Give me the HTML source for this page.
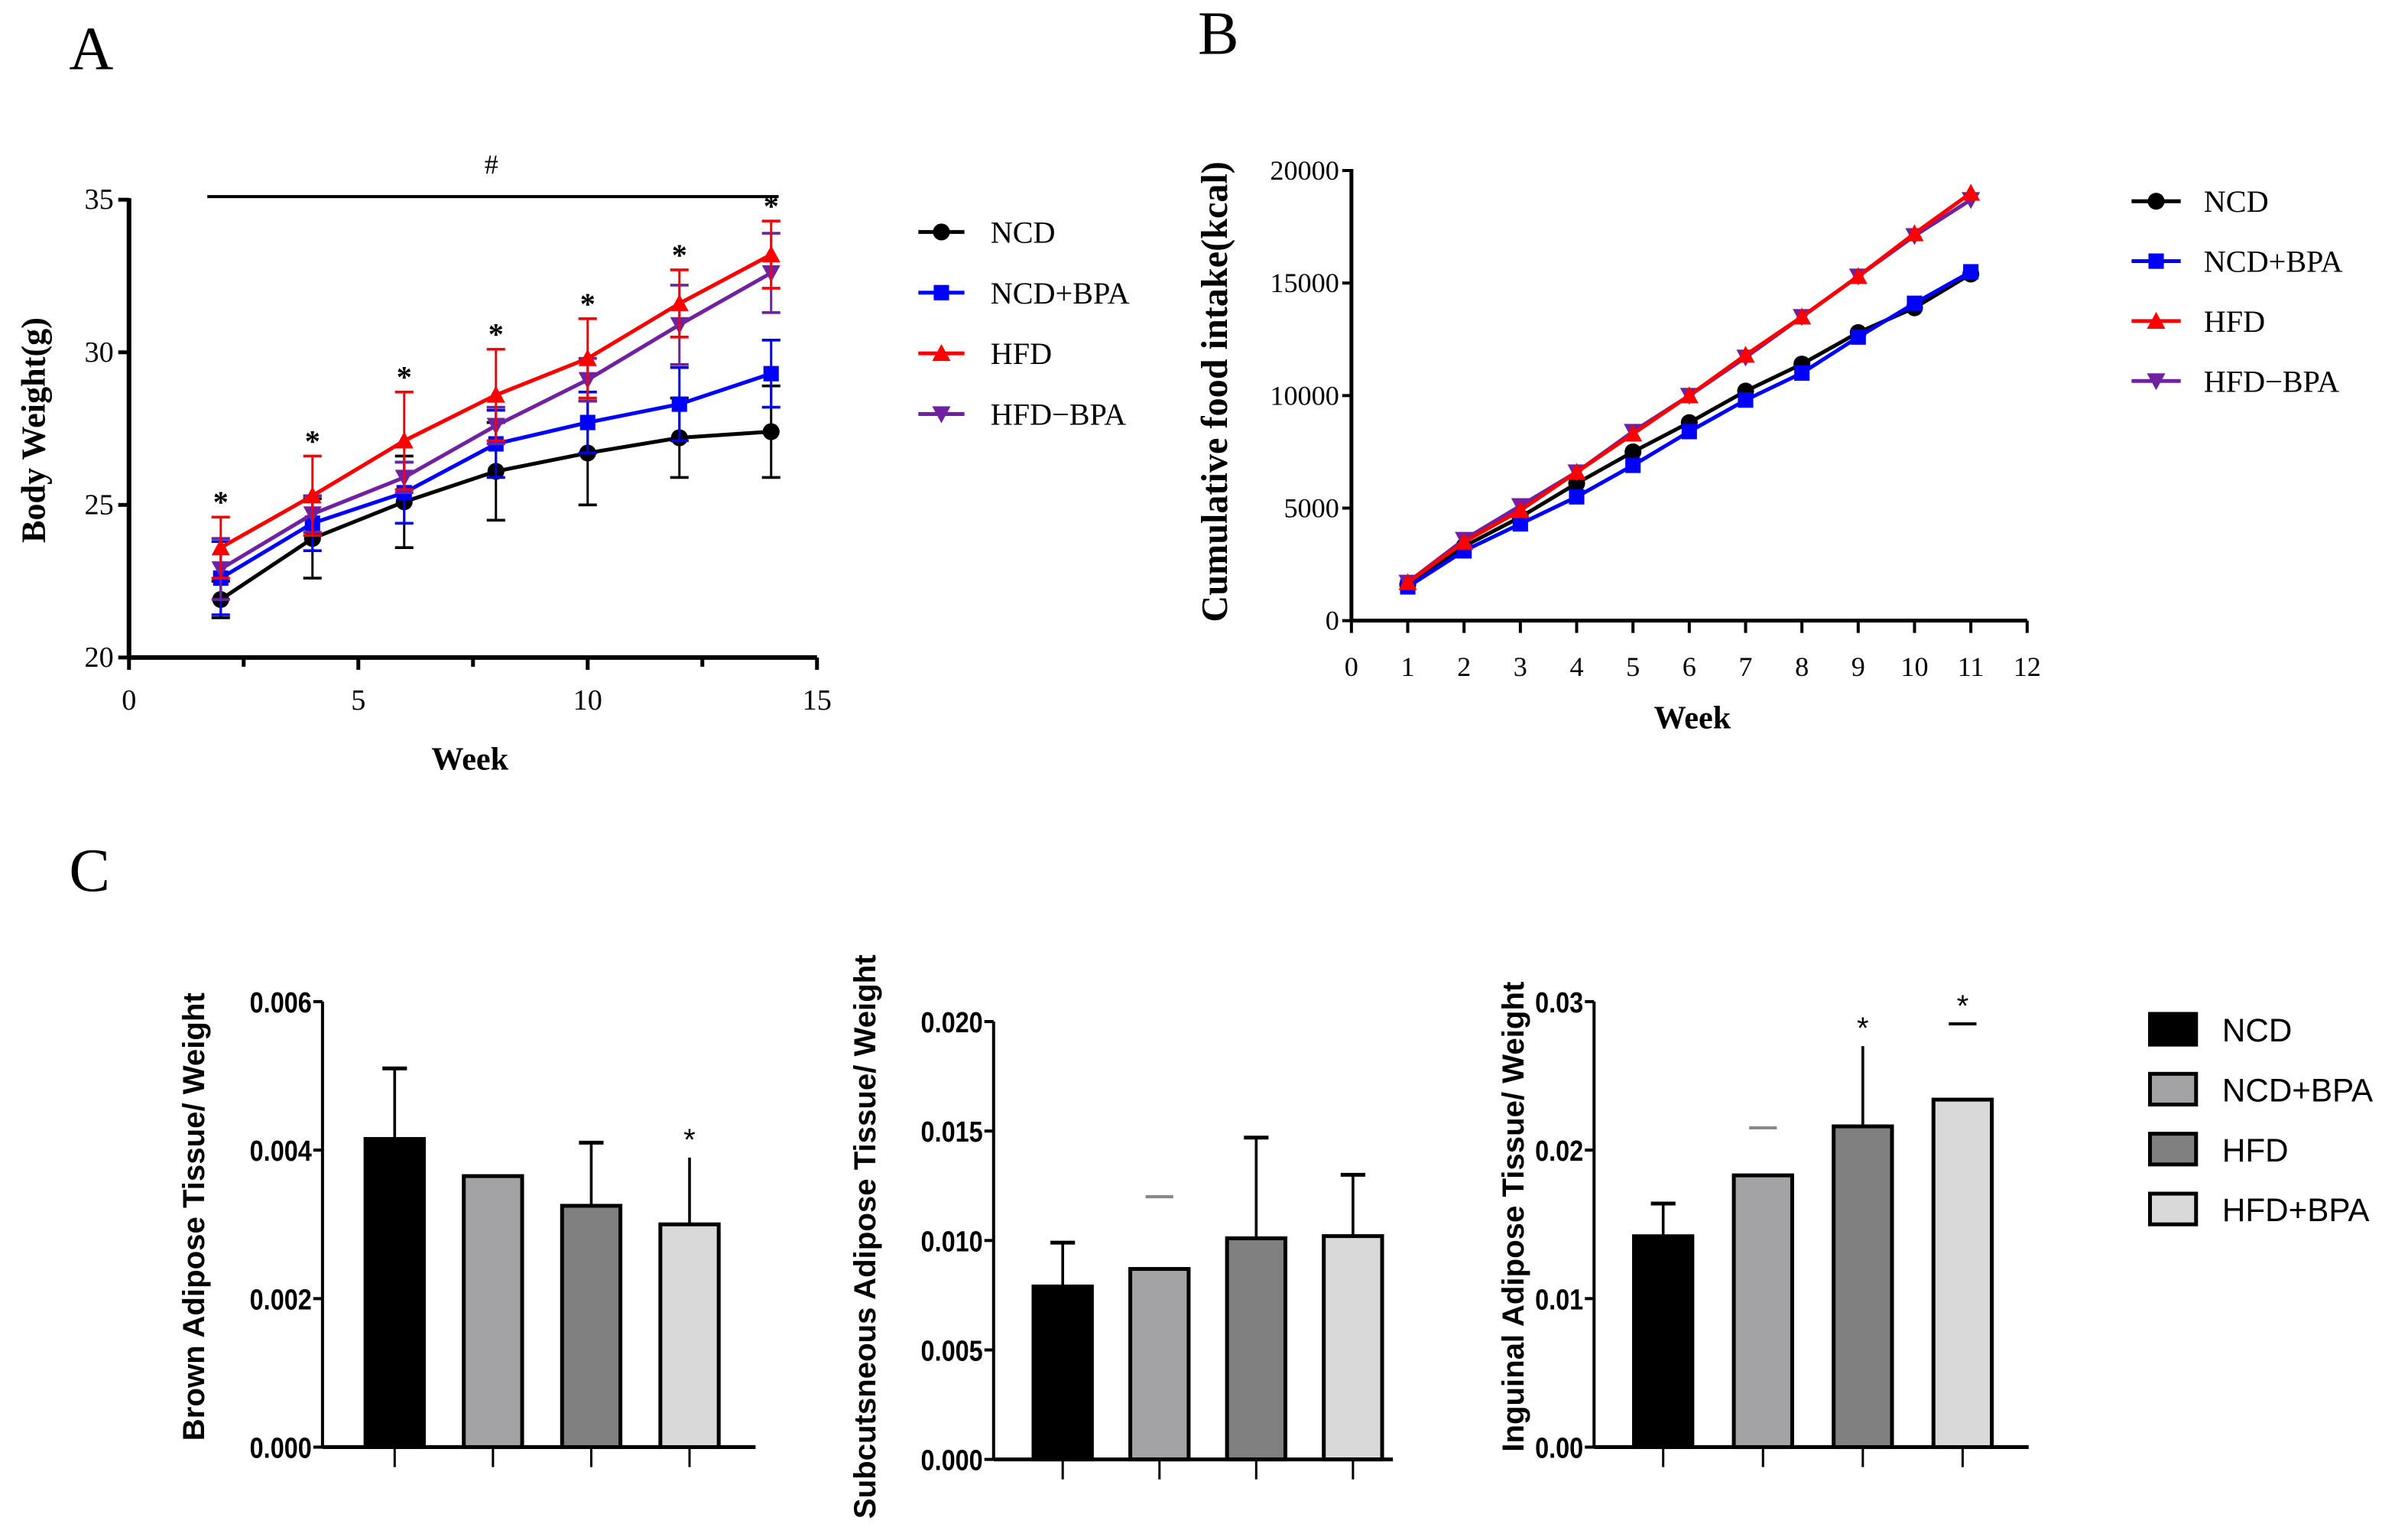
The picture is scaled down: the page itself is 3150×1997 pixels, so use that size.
<!DOCTYPE html>
<html><head><meta charset="utf-8"><style>
html,body{margin:0;padding:0;background:#fff;}
svg{display:block;}
.serif{font-family:"Liberation Serif",serif;}
.sans{font-family:"Liberation Sans",sans-serif;}
</style></head><body>
<svg id="fig" width="3150" height="1997" viewBox="0 0 1568 994" preserveAspectRatio="none" xmlns="http://www.w3.org/2000/svg">
<rect width="1568" height="994" fill="#fff"/>
<text x="45" y="45" class="serif" font-size="40">A</text>
<text x="780" y="35" class="serif" font-size="40">B</text>
<text x="45" y="580" class="serif" font-size="40">C</text>
</svg>
<script>
const NS='http://www.w3.org/2000/svg';
const svg=document.getElementById('fig');
// ---- Panel A data ----
const weeksA=[2,4,6,8,10,12,14];
const ncdA=[21.9,23.9,25.1,26.1,26.7,27.2,27.4];
const ncdAErr=[0.6,1.3,1.5,1.6,1.7,1.3,1.5];
const ncdBpaA=[22.6,24.4,25.4,27.0,27.7,28.3,29.3];
const ncdBpaAErr=[1.2,0.9,1.0,1.1,1.0,1.2,1.1];
const hfdA=[23.6,25.3,27.1,28.6,29.8,31.6,33.2];
const hfdAErr=[1.0,1.3,1.6,1.5,1.3,1.1,1.1];
const hfdBpaA=[22.9,24.7,25.9,27.6,29.1,30.9,32.6];
const hfdBpaAErr=[1.0,0.6,0.5,0.6,0.7,1.3,1.3];
const xTicksA=[0,5,10,15];
const yTicksA=[20,25,30,35];
// ---- Panel B data ----
const weeksB=[1,2,3,4,5,6,7,8,9,10,11];
const ncdB=[1600,3300,4600,6100,7500,8800,10200,11400,12800,13900,15400];
const ncdBpaB=[1500,3100,4300,5500,6900,8400,9800,11000,12600,14100,15500];
const hfdB=[1700,3500,4900,6600,8300,10000,11800,13500,15300,17200,19000];
const hfdBpaB=[1700,3600,5100,6600,8400,10000,11700,13500,15300,17100,18700];
const xTicksB=[0,1,2,3,4,5,6,7,8,9,10,11,12];
const yTicksB=[0,5000,10000,15000,20000];
// ---- Panel C data ----
const groups=['NCD','NCD+BPA','HFD','HFD+BPA'];
const brownVals=[0.00415,0.00365,0.00325,0.0030];
const brownErr=[0.0051,null,0.0041,0.0039];
const brownCap=[null,null,null,null];
const brownStar=[false,false,false,true];
const subVals=[0.0079,0.0087,0.0101,0.0102];
const subErr=[0.0099,null,0.0147,0.013];
const subCap=[null,0.012,null,null];
const subStar=[false,false,false,false];
const ingVals=[0.0142,0.0183,0.0216,0.0234];
const ingErr=[0.0164,null,0.027,null];
const ingCap=[null,0.0215,null,0.0285];
const ingStar=[false,false,true,true];
const brownTicks=['0.000','0.002','0.004','0.006'];
const subTicks=['0.000','0.005','0.010','0.015','0.020'];
const ingTicks=['0.00','0.01','0.02','0.03'];

function mk(tag,attrs,parent){const e=document.createElementNS(NS,tag);for(const k in attrs)e.setAttribute(k,attrs[k]);(parent||svg).appendChild(e);return e;}
function txt(x,y,s,attrs,parent){const e=mk('text',Object.assign({x:x,y:y},attrs),parent);e.textContent=s;return e;}

function marker(g,type,x,y,color){
  if(type==='circle') return mk('circle',{cx:x,cy:y,r:5.5,fill:color},g);
  if(type==='square') return mk('rect',{x:x-5,y:y-5,width:10,height:10,fill:color},g);
  if(type==='tri') return mk('polygon',{points:`${x},${y-6} ${x-6},${y+5} ${x+6},${y+5}`,fill:color},g);
  return mk('polygon',{points:`${x},${y+6} ${x-6},${y-5} ${x+6},${y-5}`,fill:color},g);
}

// ===== Panel A =====
(function(){
  const x0=84,x1=532,y0=428,y1=130;
  const sx=v=>x0+(v-0)/15*(x1-x0), sy=v=>y0-(v-20)/15*(y0-y1);
  const g=mk('g',{});
  
  
  const series=[
    {name:'NCD',v:ncdA,e:ncdAErr,c:'#000',m:'circle'},
    {name:'NCD+BPA',v:ncdBpaA,e:ncdBpaAErr,c:'#0000ff',m:'square'},
    {name:'HFD+BPA',v:hfdBpaA,e:hfdBpaAErr,c:'#7020a0',m:'inv'},
    {name:'HFD',v:hfdA,e:hfdAErr,c:'#ff0000',m:'tri'}];
  series.forEach(s=>{
    const sg=mk('g',{},g);
    
    
    weeksA.forEach((w,i)=>{
      const x=sx(w),yt=sy(s.v[i]+s.e[i]),yb=sy(s.v[i]-s.e[i]);
      mk('line',{x1:x,y1:yt,x2:x,y2:yb,stroke:s.c,'stroke-width':1.5},sg);
      mk('line',{x1:x-6,y1:yt,x2:x+6,y2:yt,stroke:s.c,'stroke-width':1.8},sg);
      mk('line',{x1:x-6,y1:yb,x2:x+6,y2:yb,stroke:s.c,'stroke-width':1.8},sg);
    });
    mk('polyline',{points:weeksA.map((w,i)=>sx(w)+','+sy(s.v[i])).join(' '),fill:'none',stroke:s.c,'stroke-width':2.5},sg);
    weeksA.forEach((w,i)=>{const m=marker(sg,s.m,sx(w),sy(s.v[i]),s.c);});
  });
  weeksA.forEach((w,i)=>{
    const top=Math.max(hfdA[i]+hfdAErr[i],hfdBpaA[i]+hfdBpaAErr[i]);
    const t=txt(sx(w),sy(top)-3,'*',{class:'serif','font-size':20,'text-anchor':'middle','font-weight':'bold'},g);
    
    
  });
  mk('line',{x1:135,y1:128,x2:507,y2:128,stroke:'#000','stroke-width':2},g);
  txt(320,113,'#',{class:'serif','font-size':18,'text-anchor':'middle'},g);
  mk('line',{x1:x0,y1:y1-1,x2:x0,y2:y0+1,stroke:'#000','stroke-width':3},g);
  mk('line',{x1:x0,y1:y0,x2:x1,y2:y0,stroke:'#000','stroke-width':3},g);
  yTicksA.forEach(v=>{mk('line',{x1:x0-7,y1:sy(v),x2:x0,y2:sy(v),stroke:'#000','stroke-width':2.5},g);
    txt(x0-10,sy(v)+6,String(v),{class:'serif','font-size':19,'text-anchor':'end'},g);});
  for(let v=0;v<=15;v+=2.5){mk('line',{x1:sx(v),y1:y0,x2:sx(v),y2:y0+(v%5===0?8:6),stroke:'#000','stroke-width':2.5},g);}
  xTicksA.forEach(v=>txt(sx(v),y0+34,String(v),{class:'serif','font-size':19,'text-anchor':'middle'},g));
  const xt=txt(306,501,'Week',{class:'serif','font-size':21,'font-weight':'bold','text-anchor':'middle'},g);
  
  const yt=txt(0,0,'Body Weight(g)',{class:'serif','font-size':22,'font-weight':'bold','text-anchor':'middle',transform:'translate(29,280) rotate(-90)'},g);
  
  const leg=[['NCD','#000','circle'],['NCD+BPA','#0000ff','square'],['HFD','#ff0000','tri'],['HFD+BPA','#7020a0','inv']];
  leg.forEach((l,i)=>{const y=151+i*39.5;const lg=mk('g',{},g);
    
    mk('line',{x1:598,y1:y,x2:628,y2:y,stroke:l[1],'stroke-width':2.5},lg);marker(lg,l[2],613,y,l[1]);
    txt(645,y+7,l[0]==='HFD+BPA'?'HFD−BPA':l[0],{class:'serif','font-size':20},lg);});
})();

// ===== Panel B =====
(function(){
  const x0=880,x1=1320,y0=404,y1=111;
  const sx=v=>x0+v/12*(x1-x0), sy=v=>y0-v/20000*(y0-y1);
  const g=mk('g',{});
  
  
  const series=[
    {name:'NCD',v:ncdB,c:'#000',m:'circle'},
    {name:'NCD+BPA',v:ncdBpaB,c:'#0000ff',m:'square'},
    {name:'HFD+BPA',v:hfdBpaB,c:'#7020a0',m:'inv'},
    {name:'HFD',v:hfdB,c:'#ff0000',m:'tri'}];
  series.forEach(s=>{
    const sg=mk('g',{},g);
    
    
    mk('polyline',{points:weeksB.map((w,i)=>sx(w)+','+sy(s.v[i])).join(' '),fill:'none',stroke:s.c,'stroke-width':2.5},sg);
    weeksB.forEach((w,i)=>{const m=marker(sg,s.m,sx(w),sy(s.v[i]),s.c);});
  });
  mk('line',{x1:x0,y1:y1-1,x2:x0,y2:y0+1,stroke:'#000','stroke-width':2.5},g);
  mk('line',{x1:x0,y1:y0,x2:x1,y2:y0,stroke:'#000','stroke-width':2.5},g);
  yTicksB.forEach(v=>{mk('line',{x1:x0-6,y1:sy(v),x2:x0,y2:sy(v),stroke:'#000','stroke-width':2},g);
    txt(x0-8,sy(v)+6,String(v),{class:'serif','font-size':18,'text-anchor':'end'},g);});
  xTicksB.forEach(v=>{mk('line',{x1:sx(v),y1:y0,x2:sx(v),y2:y0+8,stroke:'#000','stroke-width':2},g);
    txt(sx(v),y0+36,String(v),{class:'serif','font-size':18,'text-anchor':'middle'},g);});
  const xt=txt(1102,474,'Week',{class:'serif','font-size':21,'font-weight':'bold','text-anchor':'middle'},g);
  
  const yt=txt(0,0,'Cumulative food intake(kcal)',{class:'serif','font-size':24,'font-weight':'bold','text-anchor':'middle',transform:'translate(799,255) rotate(-90)'},g);
  
  const leg=[['NCD','#000','circle'],['NCD+BPA','#0000ff','square'],['HFD','#ff0000','tri'],['HFD−BPA','#7020a0','inv']];
  leg.forEach((l,i)=>{const y=131+i*39;const lg=mk('g',{},g);
    
    mk('line',{x1:1388,y1:y,x2:1420,y2:y,stroke:l[1],'stroke-width':2.5},lg);marker(lg,l[2],1404,y,l[1]);
    txt(1435,y+7,l[0],{class:'serif','font-size':20},lg);});
})();

// ===== Panel C =====
const fills=['#000000','#a3a3a6','#808080','#d9d9d9'];
function barChart(name,o){
  const g=mk('g',{});
  
  
  const sy=v=>o.y0-v/o.max*(o.y0-o.y1);
  o.vals.forEach((v,i)=>{
    const cx=o.x0+o.first+i*o.step;
    if(o.err[i]!=null){mk('line',{x1:cx,y1:sy(o.err[i]),x2:cx,y2:sy(v),stroke:'#000','stroke-width':1.8},g);
      if(!o.star[i]) mk('line',{x1:cx-8,y1:sy(o.err[i]),x2:cx+8,y2:sy(o.err[i]),stroke:'#000','stroke-width':2.5},g);}
    if(o.cap[i]!=null) mk('line',{x1:cx-9,y1:sy(o.cap[i]),x2:cx+9,y2:sy(o.cap[i]),stroke:i===1?'#888':'#000','stroke-width':2},g);
    const b=mk('rect',{x:cx-19,y:sy(v),width:38,height:o.y0-sy(v),fill:fills[i],stroke:'#000','stroke-width':2.5},g);
    
    
    if(o.star[i]){const top=Math.max(o.err[i]||0,o.cap[i]||0,v);
      txt(cx,sy(top)-5,'*',{class:'sans','font-size':20,'text-anchor':'middle'},g);}
    mk('line',{x1:cx,y1:o.y0,x2:cx,y2:o.y0+13,stroke:'#000','stroke-width':1.5},g);
  });
  mk('line',{x1:o.x0,y1:o.y1,x2:o.x0,y2:o.y0,stroke:'#000','stroke-width':2},g);
  mk('line',{x1:o.x0,y1:o.y0,x2:o.x0+o.len,y2:o.y0,stroke:'#000','stroke-width':2.5},g);
  o.ticks.forEach((t,i)=>{const y=sy(o.max*i/(o.ticks.length-1));
    mk('line',{x1:o.x0-6,y1:y,x2:o.x0,y2:y,stroke:'#000','stroke-width':2},g);
    txt(o.x0-7,y+7,t,{class:'sans','font-size':19,'font-weight':'bold','text-anchor':'end',transform:`translate(${o.x0-7},${y}) scale(0.85,1) translate(${-(o.x0-7)},${-y})`},g);});
  const yt=txt(0,0,o.label,{class:'sans','font-size':20,'font-weight':'bold','text-anchor':'middle',transform:`translate(${o.lx},${o.ly}) rotate(-90)`},g);
  
}
barChart('brown-adipose-chart',{x0:210,y0:942,y1:652,max:0.006,first:47,step:64,len:282,vals:brownVals,err:brownErr,cap:brownCap,star:brownStar,ticks:brownTicks,label:'Brown Adipose Tissue/ Weight',lx:133,ly:792});
barChart('subcutaneous-adipose-chart',{x0:647,y0:950,y1:665,max:0.020,first:45,step:63,len:260,vals:subVals,err:subErr,cap:subCap,star:subStar,ticks:subTicks,label:'Subcutsneous Adipose Tissue/ Weight',lx:570,ly:805});
barChart('inguinal-adipose-chart',{x0:1038,y0:942,y1:652,max:0.03,first:45,step:65,len:283,vals:ingVals,err:ingErr,cap:ingCap,star:ingStar,ticks:ingTicks,label:'Inguinal Adipose Tissue/ Weight',lx:992,ly:792});
groups.forEach((n,i)=>{const y=670+i*39;const lg=mk('g',{});
  
  mk('rect',{x:1400,y:y-10,width:30,height:20,fill:fills[i],stroke:'#000','stroke-width':2.5},lg);
  txt(1447,y+8,n,{class:'sans','font-size':21},lg);});
</script>
</body></html>
